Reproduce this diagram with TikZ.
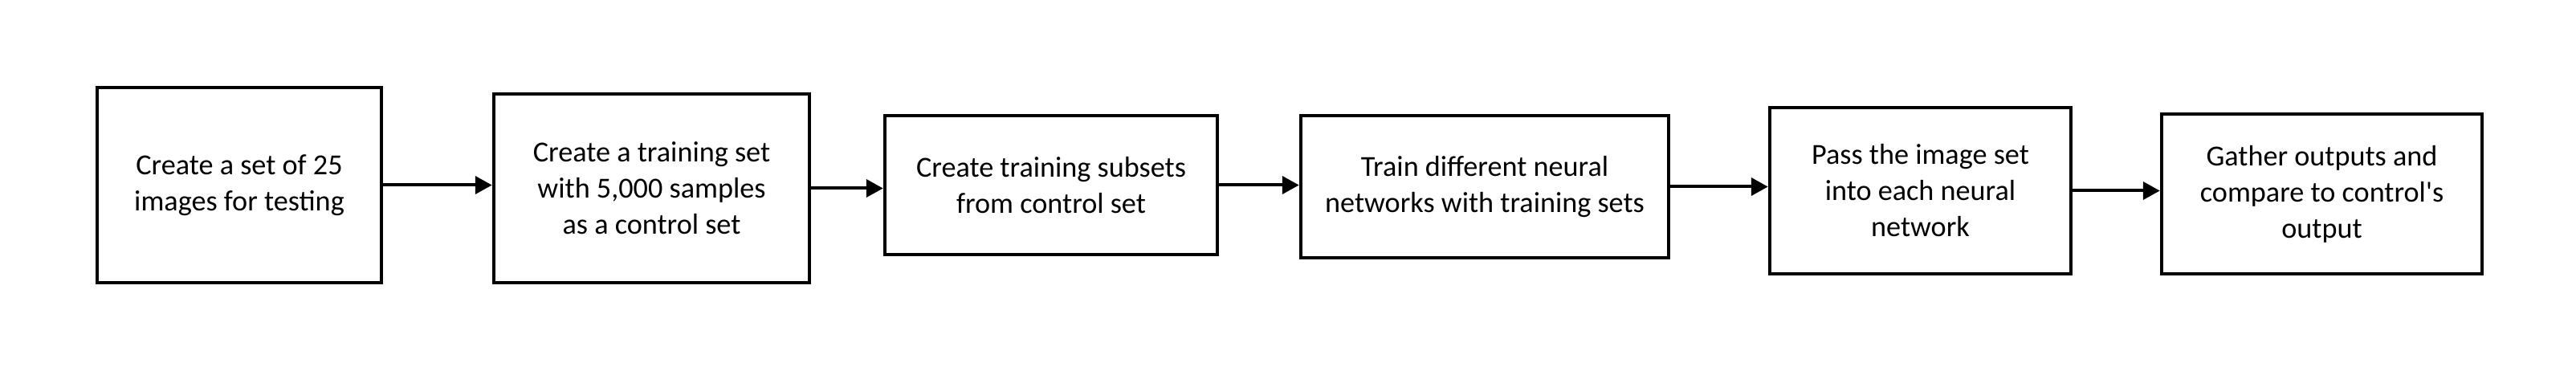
\documentclass[tikz,border=0pt]{standalone}
\usepackage{fontspec}
\setmainfont{Carlito}[Ligatures=TeXReset]
\usetikzlibrary{arrows.meta}
\tikzset{
	stepbox/.style={draw, line width=0.45mm, align=center, inner sep=0pt, font=\fontsize{10.3}{12.8}\selectfont},
	flowarrow/.style={line width=0.4mm, -{Triangle[length=2.1mm, width=2.2mm]}}
}

\begin{document}
\begin{tikzpicture}
			%%%%% START %%%%%
			
			\useasboundingbox (0, 0) rectangle (32.08, 4.56);
			
			\node[stepbox, minimum width=3.54cm, minimum height=2.43cm] (imgset) at (2.98, 2.255) {Create a set of 25\\images for testing};
			\node[stepbox, minimum width=3.93cm, minimum height=2.35cm] (ctrlset) at (8.115, 2.215) {Create a training set\\with 5,000 samples\\as a control set};
			\node[stepbox, minimum width=4.14cm, minimum height=1.73cm] (subsets) at (13.09, 2.255) {Create training subsets\\from control set};
			\node[stepbox, minimum width=4.58cm, minimum height=1.77cm] (train) at (18.49, 2.235) {Train different neural\\networks with training sets};
			\node[stepbox, minimum width=3.75cm, minimum height=2.07cm] (pass) at (23.915, 2.185) {Pass the image set\\into each neural\\network};
			\node[stepbox, minimum width=3.99cm, minimum height=1.99cm] (gather) at (28.915, 2.145) {Gather outputs and\\compare to control's\\output};
			
			\draw[flowarrow] (imgset.east) -- (imgset.east -| ctrlset.west);
			\draw[flowarrow] (ctrlset.east) -- (ctrlset.east -| subsets.west);
			\draw[flowarrow] (subsets.east) -- (subsets.east -| train.west);
			\draw[flowarrow] (train.east) -- (train.east -| pass.west);
			\draw[flowarrow] (pass.east) -- (pass.east -| gather.west);
			
			%%%%% END %%%%%
		\end{tikzpicture}
\end{document}
